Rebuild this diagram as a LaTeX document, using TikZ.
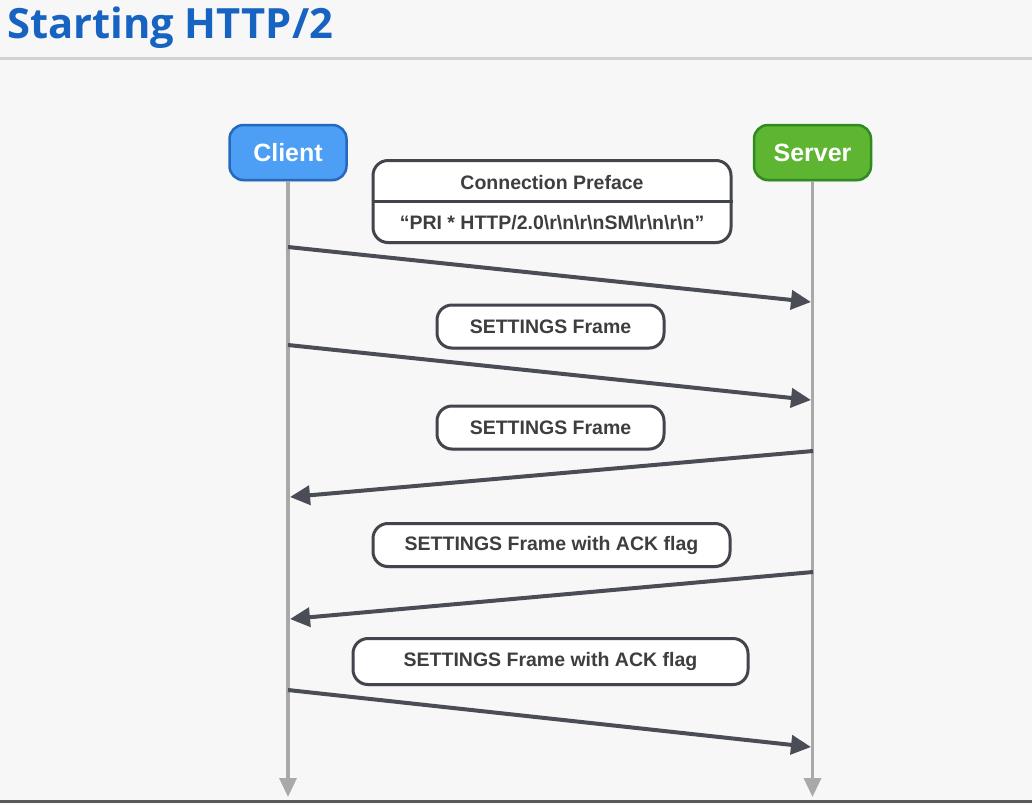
\documentclass[tikz,border=0pt]{standalone}
\usepackage{fontspec}
\setmainfont{Liberation Sans}
\newfontfamily\titlefont{Open Sans}
\usetikzlibrary{arrows.meta,shadows}
\definecolor{bgc}{HTML}{F7F7F7}
\definecolor{titleblue}{HTML}{1763C2}
\definecolor{clientfill}{HTML}{4C9FF4}
\definecolor{clientdraw}{HTML}{2569BE}
\definecolor{serverfill}{HTML}{5DB532}
\definecolor{serverdraw}{HTML}{2F8A1F}
\definecolor{msgc}{HTML}{4A4D55}
\definecolor{lifec}{HTML}{A9A9A9}
\definecolor{textc}{HTML}{3E3E3E}
\begin{document}
\begin{tikzpicture}[x=1pt,y=-1pt,
  actor/.style={rounded corners=14pt, line width=2.5pt, minimum width=117pt, minimum height=55pt,
    text=white, font=\fontsize{25}{28}\selectfont\bfseries, inner sep=0pt,
    drop shadow={shadow xshift=0pt, shadow yshift=-2pt, opacity=0.2}},
  msgbox/.style={draw=msgc!90!black, fill=white, rounded corners=15pt, line width=3pt,
    minimum height=43pt, inner sep=0pt, text=textc, font=\fontsize{19.5}{22}\selectfont\bfseries,
    drop shadow={shadow xshift=0pt, shadow yshift=-2pt, opacity=0.18}},
  lifeline/.style={draw=lifec, line width=3.5pt, -{Triangle[length=19pt,width=17pt]}},
  msg/.style={draw=msgc, line width=4pt, -{Triangle[length=20pt,width=19pt]}},
  lbl/.style={text=textc, font=\fontsize{19.5}{22}\selectfont\bfseries, inner sep=0pt}
]
\fill[bgc] (0,0) rectangle (1032,804);
\useasboundingbox (0,0) rectangle (1032,804);
% title
\node[anchor=base west, inner sep=0pt, text=titleblue, font=\titlefont\fontsize{41.7}{45}\selectfont\bfseries] (title) at (7,38) {Starting HTTP/2};
\draw[line width=2.5pt, draw=black!18] (0,58.5) -- (1032,58.5);
\draw[line width=3pt, draw=black!65] (0,801.5) -- (1032,801.5);
% actors
\node[actor, fill=clientfill, draw=clientdraw] (client) at (288,152.5) {Client};
\node[actor, fill=serverfill, draw=serverdraw] (server) at (812.5,152.5) {Server};
\coordinate (cend) at (288,797);
\coordinate (send) at (812.5,797);
\draw[lifeline] (client.south) -- (cend);
\draw[lifeline] (server.south) -- (send);
% connection preface
\node[msgbox, minimum width=358pt, minimum height=82pt] (pref) at (552,201.5) {};
\draw[draw=msgc!90!black, line width=2.5pt] (pref.west) -- (pref.east);
\node[lbl] (prefA) at (552,183) {Connection Preface};
\node[lbl] (prefB) at (552,222.5) {“PRI * HTTP/2.0\textbackslash r\textbackslash n\textbackslash r\textbackslash nSM\textbackslash r\textbackslash n\textbackslash r\textbackslash n”};
% message labels
\node[msgbox, minimum width=227pt] (m2) at (550.5,326.5) {SETTINGS Frame};
\node[msgbox, minimum width=227pt] (m3) at (550.5,427.5) {SETTINGS Frame};
\node[msgbox, minimum width=357pt] (m4) at (551.5,545) {SETTINGS Frame with ACK flag};
\node[msgbox, minimum width=395pt, minimum height=46pt] (m5) at (550.5,661.5) {SETTINGS Frame with ACK flag};
% endpoints
\coordinate (c1) at (288,247);
\coordinate (s1) at (811,302);
\coordinate (c2) at (288,345);
\coordinate (s2) at (811,400);
\coordinate (s3) at (813,451);
\coordinate (c3) at (290,497);
\coordinate (s4) at (813,572);
\coordinate (c4) at (290,619);
\coordinate (c5) at (288,690);
\coordinate (s5) at (811,747);
\draw[msg] (c1) -- (s1);
\draw[msg] (c2) -- (s2);
\draw[msg] (s3) -- (c3);
\draw[msg] (s4) -- (c4);
\draw[msg] (c5) -- (s5);
\end{tikzpicture}
\end{document}
